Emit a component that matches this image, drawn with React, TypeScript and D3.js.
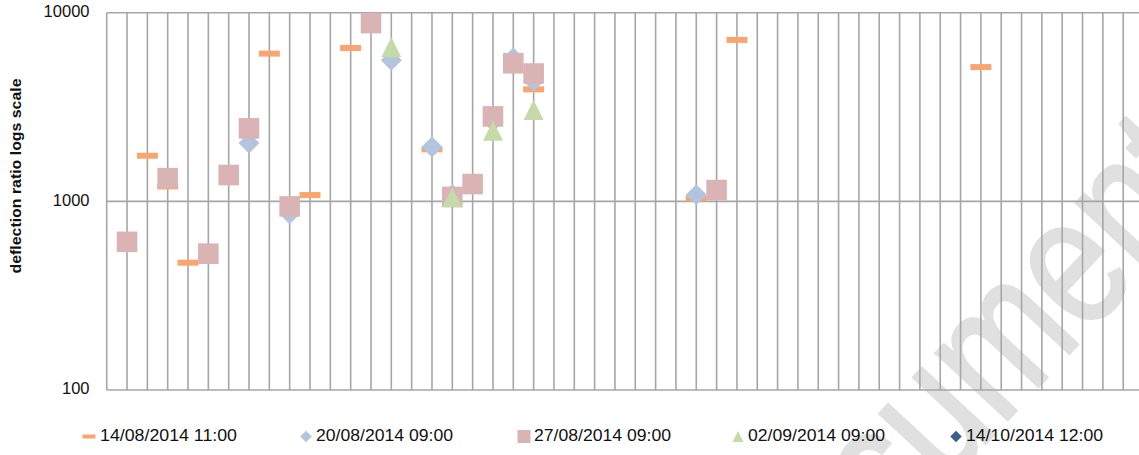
import * as d3 from 'd3';

// values read per category slot (gridline index), log scale
const dash14Aug: [number, number][] = [
  [2, 1745], [3, 1200], [4, 473], [8, 6070], [10, 1080], [12, 6500],
  [16, 1887], [21, 3925], [29, 1037], [31, 7175], [43, 5150],
];
const diamond20Aug: [number, number][] = [
  [7, 2037], [9, 860], [14, 5590], [16, 1940], [17, 1088], [19, 2650],
  [20, 5750], [21, 4350], [29, 1085],
];
const square27Aug: [number, number][] = [
  [1, 610], [3, 1327], [5, 528], [6, 1379], [7, 2437], [9, 940], [13, 8810],
  [17, 1055], [18, 1235], [19, 2820], [20, 5395], [21, 4760], [30, 1148],
];
const triangle02Sep: [number, number][] = [
  [14, 6550], [17, 1050], [19, 2370], [21, 3048],
];
const diamond14Oct: [number, number][] = [];

const seriesLabels = [
  '14/08/2014 11:00',
  '20/08/2014 09:00',
  '27/08/2014 09:00',
  '02/09/2014 09:00',
  '14/10/2014 12:00',
];
const yTicks = [100, 1000, 10000];
const slotCount = 51;

const colors = ['#f8a56f', '#b4c4de', '#dab4b4', '#c6d9a9', '#3b5f8e'];
const gridColor = '#a6a6a6';

const diamondPath = (r: number) => `M0,${-r}L${r},0L0,${r}L${-r},0Z`;
const trianglePath = (w: number, h: number) =>
  `M0,${-h / 2}L${w / 2},${h / 2}L${-w / 2},${h / 2}Z`;

const Marker = ({ kind, color, big }: { kind: number; color: string; big: boolean }) => {
  const s = big ? 1 : 0.55;
  if (kind === 0) {
    const w = big ? 21 : 13;
    const h = big ? 6 : 4;
    return <rect x={-w / 2} y={-h / 2} width={w} height={h} fill={color} />;
  }
  if (kind === 1 || kind === 4) return <path d={diamondPath(10.5 * s)} fill={color} />;
  if (kind === 2) {
    const a = big ? 20.6 : 13;
    return <rect x={-a / 2} y={-a / 2} width={a} height={a} fill={color} />;
  }
  return <path d={trianglePath(20 * s, 20 * s)} fill={color} />;
};

export default function App() {
  const width = 1139;
  const height = 455;
  const left = 106.7;
  const step = 20.33;
  const top = 12.7;
  const bottom = 390;

  const x = d3.scaleLinear().domain([0, slotCount]).range([left, left + slotCount * step]);
  const y = d3.scaleLog().domain([100, 10000]).range([bottom, top]);

  const allSeries = [dash14Aug, diamond20Aug, square27Aug, triangle02Sep, diamond14Oct];
  const legendX = [89, 306, 524, 738, 956];
  const font = '"Liberation Sans", Arial, sans-serif';

  return (
    <svg
      width={width}
      height={height}
      style={{ position: 'absolute', left: 0, top: 0, background: '#fff' }}
      fontFamily={font}
    >
      {/* watermark, cut by the picture edge as in the source */}
      <text
        transform="translate(765,680) rotate(-47) scale(0.8,1)"
        fontSize={185}
        fill="#e0e0e0"
        stroke="#e0e0e0"
        strokeWidth={3}
      >
        Document
      </text>

      {d3.range(0, slotCount + 1).map((i) => (
        <line
          key={'v' + i}
          x1={x(i)}
          x2={x(i)}
          y1={top}
          y2={bottom}
          stroke={gridColor}
          strokeWidth={1.6}
        />
      ))}
      {yTicks.map((t) => (
        <g key={'h' + t}>
          <line
            x1={left}
            x2={x(slotCount)}
            y1={y(t)}
            y2={y(t)}
            stroke={gridColor}
            strokeWidth={1.6}
          />
          <text
            x={89.5}
            y={y(t)}
            textAnchor="end"
            dominantBaseline="middle"
            fontSize={16.5}
            fill="#111"
          >
            {t}
          </text>
        </g>
      ))}

      <text
        transform="translate(21,176) rotate(-90)"
        textAnchor="middle"
        fontWeight="bold"
        fontSize={15}
        textLength={195}
        lengthAdjust="spacingAndGlyphs"
        fill="#111"
      >
        deflection ratio logs scale
      </text>

      {allSeries.map((pts, k) =>
        pts.map(([i, v]) => (
          <g key={k + '-' + i} transform={`translate(${x(i)},${y(v)})`}>
            <Marker kind={k} color={colors[k]} big />
          </g>
        ))
      )}

      {seriesLabels.map((label, k) => (
        <g key={label} transform={`translate(${legendX[k]},436.5)`}>
          <Marker kind={k} color={colors[k]} big={false} />
          <text
            x={k === 0 ? 11 : 10}
            dominantBaseline="middle"
            fontSize={16}
            textLength={137}
            lengthAdjust="spacingAndGlyphs"
            fill="#111"
          >
            {label}
          </text>
        </g>
      ))}
    </svg>
  );
}
